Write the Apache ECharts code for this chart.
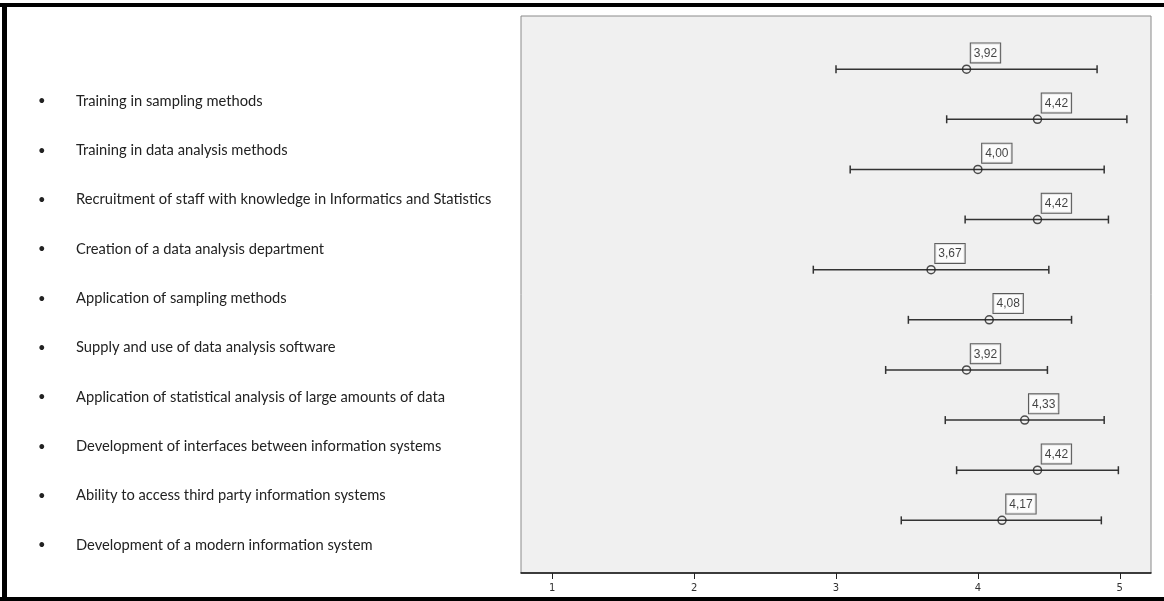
<!DOCTYPE html>
<html>
<head>
<meta charset="utf-8">
<script src="https://cdn.jsdelivr.net/npm/echarts@6/dist/echarts.min.js"></script>
<style>
html,body{margin:0;padding:0;background:#fff;}
#chart{width:1164px;height:601px;}
</style>
</head>
<body>
<div id="chart"></div>
<script>
var myChart = echarts.init(document.getElementById('chart'));

/* items (top to bottom) */
var items = [
  'Training in sampling methods',
  'Training in data analysis methods',
  'Recruitment of staff with knowledge in Informatics and Statistics',
  'Creation of a data analysis department',
  'Application of sampling methods',
  'Supply and use of data analysis software',
  'Application of statistical analysis of large amounts of data',
  'Development of interfaces between information systems',
  'Ability to access third party information systems',
  'Development of a modern information system'
];
/* mean and error bar ends, one per row */
var means = [3.92, 4.42, 4.00, 4.42, 3.67, 4.08, 3.92, 4.33, 4.42, 4.17];
var lower = [3.00, 3.78, 3.10, 3.91, 2.84, 3.51, 3.35, 3.77, 3.85, 3.46];
var upper = [4.84, 5.05, 4.89, 4.92, 4.50, 4.66, 4.49, 4.89, 4.99, 4.87];
var xTicks = [1, 2, 3, 4, 5];

var barData = [];
var meanData = [];
for (var i = 0; i < means.length; i++) {
  barData.push([i, lower[i], upper[i]]);
  meanData.push([means[i], i]);
}

var option = {
  animation: false,
  graphic: [
    { type: 'rect', shape: { x: 0, y: 3, width: 1164, height: 4 }, style: { fill: '#000' } },
    { type: 'rect', shape: { x: 2, y: 3, width: 5, height: 598 }, style: { fill: '#000' } },
    { type: 'rect', shape: { x: 0, y: 597, width: 1164, height: 4 }, style: { fill: '#000' } }
  ],
  grid: [
    { left: 521, right: 13, top: 16, bottom: 28, show: true,
      backgroundColor: '#f0f0f0', borderColor: '#8a8a8a', borderWidth: 1 },
    { left: 38, width: 10, top: 101, bottom: 56 }
  ],
  xAxis: [
    {
      gridIndex: 0, type: 'value', min: 0.78, max: 5.22,
      splitLine: { show: false },
      axisLine: { onZero: false, lineStyle: { color: '#111', width: 1.5 } },
      axisTick: { show: true, length: 6, customValues: xTicks, lineStyle: { color: '#222' } },
      axisLabel: { customValues: xTicks, fontSize: 10, color: '#333', margin: 10,
                   fontFamily: 'DejaVu Sans' }
    },
    { gridIndex: 1, type: 'value', show: false }
  ],
  yAxis: [
    { gridIndex: 0, type: 'value', inverse: true, min: -1.06, max: 10.05, show: false },
    {
      gridIndex: 1, type: 'category', inverse: true, boundaryGap: false, data: items,
      axisLine: { show: false }, axisTick: { show: false },
      axisLabel: {
        inside: true, margin: 0,
        formatter: function (v) { return '{b|•}{t|' + v + '}'; },
        rich: {
          b: { width: 38, fontSize: 13, color: '#222', fontFamily: 'Lato' },
          t: { fontSize: 14.7, color: '#222', fontFamily: 'Lato' }
        }
      }
    }
  ],
  series: [
    {
      type: 'custom',
      xAxisIndex: 0, yAxisIndex: 0,
      encode: { x: [1, 2], y: 0 },
      data: barData,
      renderItem: function (params, api) {
        var row = api.value(0);
        var a = api.coord([api.value(1), row]);
        var b = api.coord([api.value(2), row]);
        var h = 4;
        var st = { stroke: '#333', lineWidth: 1.5 };
        return {
          type: 'group',
          children: [
            { type: 'line', shape: { x1: a[0], y1: a[1], x2: b[0], y2: b[1] }, style: st },
            { type: 'line', shape: { x1: a[0], y1: a[1] - h, x2: a[0], y2: a[1] + h }, style: st },
            { type: 'line', shape: { x1: b[0], y1: b[1] - h, x2: b[0], y2: b[1] + h }, style: st }
          ]
        };
      }
    },
    {
      type: 'scatter',
      xAxisIndex: 0, yAxisIndex: 0,
      data: meanData,
      symbol: 'circle',
      symbolSize: 8,
      itemStyle: { color: 'rgba(0,0,0,0)', borderColor: '#222', borderWidth: 1.5 },
      label: {
        show: true,
        position: [9, -21],
        formatter: function (p) { return p.value[0].toFixed(2).replace('.', ','); },
        fontSize: 12, fontFamily: 'Liberation Sans', color: '#111',
        backgroundColor: '#fff', borderColor: '#333', borderWidth: 1,
        padding: [3, 3, 2, 3], lineHeight: 14
      }
    }
  ]
};
myChart.setOption(option);
</script>
</body>
</html>
